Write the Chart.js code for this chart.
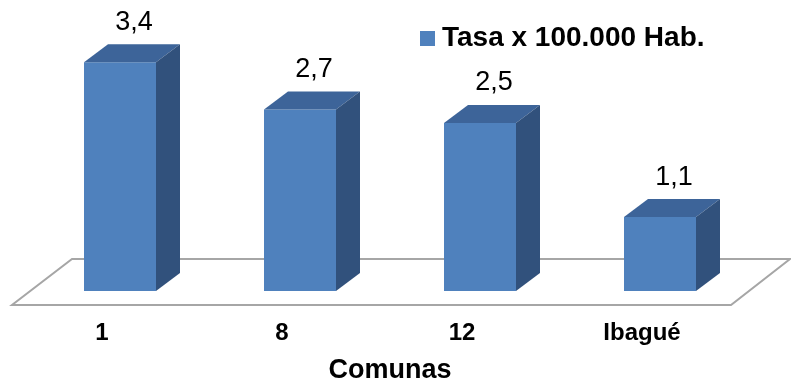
<!DOCTYPE html>
<html><head><meta charset="utf-8">
<script src="https://cdn.jsdelivr.net/npm/chart.js@4.4.0/dist/chart.umd.min.js"></script>
<style>html,body{margin:0;padding:0;background:#fff}#wrap{width:791px;height:386px}</style>
</head><body><div id="wrap"><canvas id="c" width="791" height="386"></canvas></div>
<script>
const categories = ['1', '8', '12', 'Ibagué'];
const seriesLabel = 'Tasa x 100.000 Hab.';
const values = [3.4, 2.7, 2.5, 1.1];
const axisTitle = 'Comunas';

const FRONT = '#4f81bd', TOP = '#3d6499', SIDE = '#31517c';
const DX = 24, DY = 18;
const FONT = "'Liberation Sans', Arial, sans-serif";

const threeD = {
  id: 'threeD',
  beforeDatasetsDraw(chart) {
    const ctx = chart.ctx, ca = chart.chartArea;
    const base = chart.scales.y.getPixelForValue(0);
    const backY = base - 32, frontY = base + 14;
    ctx.save();
    ctx.strokeStyle = '#a6a6a6';
    ctx.lineWidth = 2;
    ctx.beginPath();
    ctx.moveTo(ca.left + 42, backY);
    ctx.lineTo(ca.right + 40, backY);
    ctx.lineTo(ca.right - 19, frontY);
    ctx.lineTo(ca.left - 18, frontY);
    ctx.closePath();
    ctx.stroke();
    ctx.restore();
  },
  afterDatasetsDraw(chart) {
    const ctx = chart.ctx;
    const meta = chart.getDatasetMeta(0);
    ctx.save();
    meta.data.forEach((el, i) => {
      const p = el.getProps(['x', 'y', 'base', 'width'], true);
      const l = p.x - p.width / 2, r = p.x + p.width / 2;
      ctx.fillStyle = TOP;
      ctx.beginPath();
      ctx.moveTo(l, p.y); ctx.lineTo(l + DX, p.y - DY); ctx.lineTo(r + DX, p.y - DY); ctx.lineTo(r, p.y);
      ctx.closePath(); ctx.fill();
      ctx.fillStyle = SIDE;
      ctx.beginPath();
      ctx.moveTo(r, p.y); ctx.lineTo(r + DX, p.y - DY); ctx.lineTo(r + DX, p.base - DY); ctx.lineTo(r, p.base);
      ctx.closePath(); ctx.fill();
      ctx.fillStyle = '#000';
      ctx.font = '27px ' + FONT;
      ctx.textAlign = 'center';
      ctx.textBaseline = 'alphabetic';
      ctx.fillText(String(values[i]).replace('.', ','), p.x + DX / 2 + 2, p.y - 32.5);
    });
    ctx.restore();
  },
  afterDraw(chart) {
    const ctx = chart.ctx;
    ctx.save();
    ctx.fillStyle = FRONT;
    ctx.fillRect(420, 31, 15, 15);
    ctx.fillStyle = '#000';
    ctx.font = 'bold 28px ' + FONT;
    ctx.textAlign = 'left';
    ctx.textBaseline = 'alphabetic';
    ctx.fillText(chart.data.datasets[0].label, 442, 46);
    ctx.restore();
  }
};

new Chart(document.getElementById('c'), {
  type: 'bar',
  data: {
    labels: categories,
    datasets: [{
      label: seriesLabel,
      data: values,
      backgroundColor: FRONT,
      borderWidth: 0,
      categoryPercentage: 1,
      barPercentage: 0.4
    }]
  },
  options: {
    responsive: false,
    devicePixelRatio: 1,
    animation: false,
    layout: { padding: { top: 22, left: 30, right: 41, bottom: 0 } },
    plugins: { legend: { display: false }, tooltip: { enabled: false } },
    scales: {
      x: {
        grid: { display: false, drawTicks: false },
        border: { display: false },
        afterFit(scale) { scale.height = 95; },
        ticks: { color: '#000', font: { family: FONT, size: 24, weight: 'bold' }, padding: 28, labelOffset: -18, maxRotation: 0 },
        title: { display: true, text: axisTitle, color: '#000', font: { family: FONT, size: 27, weight: 'bold', lineHeight: 1.12 }, padding: 0 }
      },
      y: { display: false, min: 0, max: 4 }
    }
  },
  plugins: [threeD]
});
</script>
</body></html>
